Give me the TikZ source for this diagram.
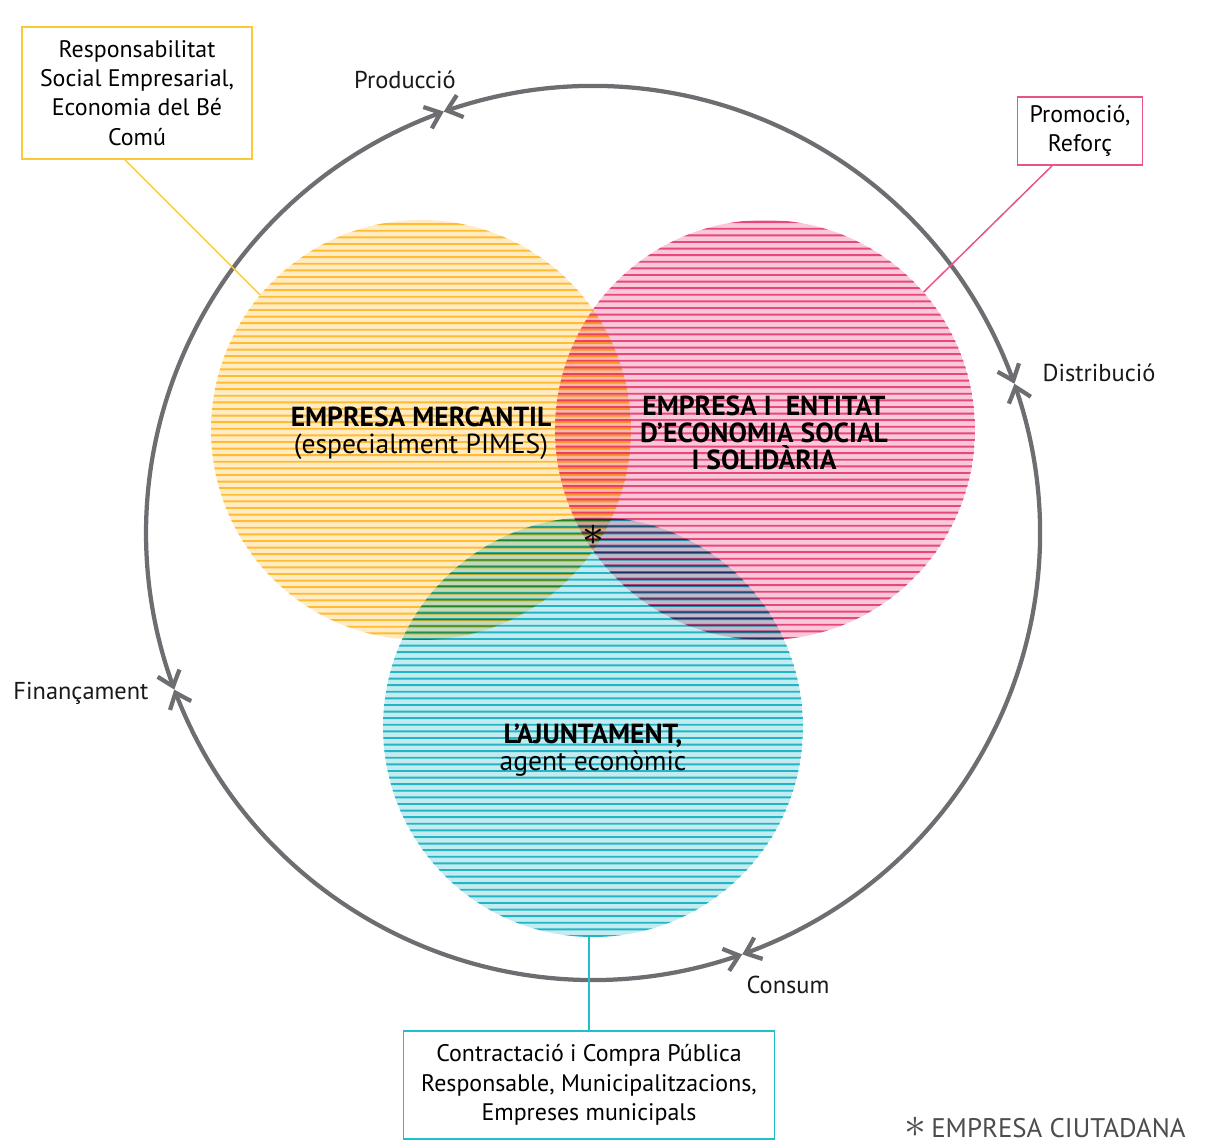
\documentclass[tikz,border=0pt]{standalone}
\usepackage{fontspec}
\setmainfont{PT Sans}
\usepackage{tikz}
\usetikzlibrary{
    arrows.meta,
    bending,
    positioning,
    calc
}
\definecolor{ringgray}{HTML}{6D6E71}
\definecolor{yline}{HTML}{FFCD40}
\definecolor{ybg}{HTML}{FFEBC4}
\definecolor{pline}{HTML}{EE5A92}
\definecolor{pbg}{HTML}{FAC9D9}
\definecolor{cline}{HTML}{2CC4D2}
\definecolor{cbg}{HTML}{C4ECF0}
\definecolor{ybox}{HTML}{FCC93A}
\definecolor{pbox}{HTML}{E8538B}
\definecolor{cbox}{HTML}{22BFCB}
\tikzset{
    cycle/.style = {
        draw=ringgray,
        line width=0.85mm,
        {Straight Barb[length=2.8mm,width=4.6mm,bend]}-{Straight Barb[length=2.8mm,width=4.6mm,bend]}
    },
    stepname/.style = {
        font=\fontsize{13.9}{16}\selectfont,
        text=black!90
    },
    notebox/.style = {
        rectangle,
        draw,
        line width=0.35mm,
        fill=white,
        align=center,
        inner sep=1.2mm,
        font=\fontsize{13.6}{16.7}\selectfont
    },
    lead/.style = {
        line width=0.3mm
    },
    agent/.style = {
        align=center,
        font=\fontsize{15.7}{15.3}\selectfont
    },
    stripe/.style = {
        line width=0.38mm
    }
}

\begin{document}
\begin{tikzpicture}[x=0.2mm,y=0.2mm]
\useasboundingbox (0,0) rectangle (1214,1145);
% centres
\coordinate (ctr) at (593,612);
\coordinate (yc) at (421,715);
\coordinate (pc) at (765,715);
\coordinate (cc) at (593,418);

% the three circles, striped
\begin{scope}[blend group=multiply]
\begin{scope}
    \clip (yc) circle[radius=210];
    \fill[ybg] (yc) circle[radius=210];
    \foreach \k in {0,...,64}
        \draw[stripe,yline] ($(yc)+(-212,-210+\k*6.6)$) -- ++(424,0);
\end{scope}
\begin{scope}
    \clip (pc) circle[radius=210];
    \fill[pbg] (pc) circle[radius=210];
    \foreach \k in {0,...,64}
        \draw[stripe,pline] ($(pc)+(-212,-208+\k*6.6)$) -- ++(424,0);
\end{scope}
\begin{scope}
    \clip (cc) circle[radius=210];
    \fill[cbg] (cc) circle[radius=210];
    \foreach \k in {0,...,64}
        \draw[stripe,cline] ($(cc)+(-212,-209+\k*6.6)$) -- ++(424,0);
\end{scope}
\end{scope}

% cycle
\coordinate (mProd) at ($(ctr)+(109.5:447)$);
\coordinate (mDist) at ($(ctr)+(19.5:447)$);
\coordinate (mCons) at ($(ctr)+(-70.5:447)$);
\coordinate (mFin) at ($(ctr)+(200.5:447)$);
\draw[cycle] (mProd) arc[start angle=109.5, end angle=19.5, radius=447];
\draw[cycle] (mDist) arc[start angle=19.5, end angle=-70.5, radius=447];
\draw[cycle] (mCons) arc[start angle=-70.5, end angle=-159.5, radius=447];
\draw[cycle] (mFin) arc[start angle=200.5, end angle=109.5, radius=447];

\node[stepname] (prod) at (405,1065) {Producció};
\node[stepname] (dist) at (1099,772) {Distribució};
\node[stepname] (cons) at (788,160) {Consum};
\node[stepname] (fin) at (81,452) {Finançament};

% agents
\node[agent] (merc) at (421,712) {\textbf{EMPRESA MERCANTIL}\\(especialment PIMES)};
\node[agent] (ess) at (764,712) {\textbf{EMPRESA I \ ENTITAT}\\\textbf{D’ECONOMIA SOCIAL}\\\textbf{I SOLIDÀRIA}};
\node[agent] (ajunt) at (593,395) {\textbf{L’AJUNTAMENT,}\\agent econòmic};
\node[font=\fontsize{30}{30}\selectfont,inner sep=0pt] (star) at (593,610) {$\ast$};

% notes
\node[notebox,draw=ybox,minimum width=46mm,minimum height=26.4mm] (rse) at (137,1052)
    {Responsabilitat\\Social Empresarial,\\Economia del Bé\\Comú};
\node[notebox,draw=pbox,minimum width=25mm,minimum height=13.6mm] (prom) at (1080,1014)
    {Promoció,\\Reforç};
\node[notebox,draw=cbox,minimum width=74.2mm,minimum height=21.6mm] (contr) at (589,60)
    {Contractació i Compra Pública\\Responsable, Municipalitzacions,\\Empreses municipals};

\coordinate (yfoot) at ($(rse.south)+(-12,0)$);
\coordinate (pfoot) at ($(prom.south)+(-28,0)$);
\coordinate (ytip) at ($(yc)+(140:210)$);
\coordinate (ptip) at ($(pc)+(41:210)$);
\coordinate (ctip) at ($(cc)+(-90:210)$);
\draw[lead,ybox] (yfoot) -- (ytip);
\draw[lead,pbox] (pfoot) -- (ptip);
\draw[lead,cbox] (contr.north) -- (contr.north |- ctip);

\node[font=\fontsize{15.3}{16}\selectfont,text=black!70,anchor=base east,inner sep=0pt] (legend) at (1186,7)
    {{\fontsize{26}{26}\selectfont$\ast$}\,EMPRESA CIUTADANA};
\end{tikzpicture}
\end{document}
